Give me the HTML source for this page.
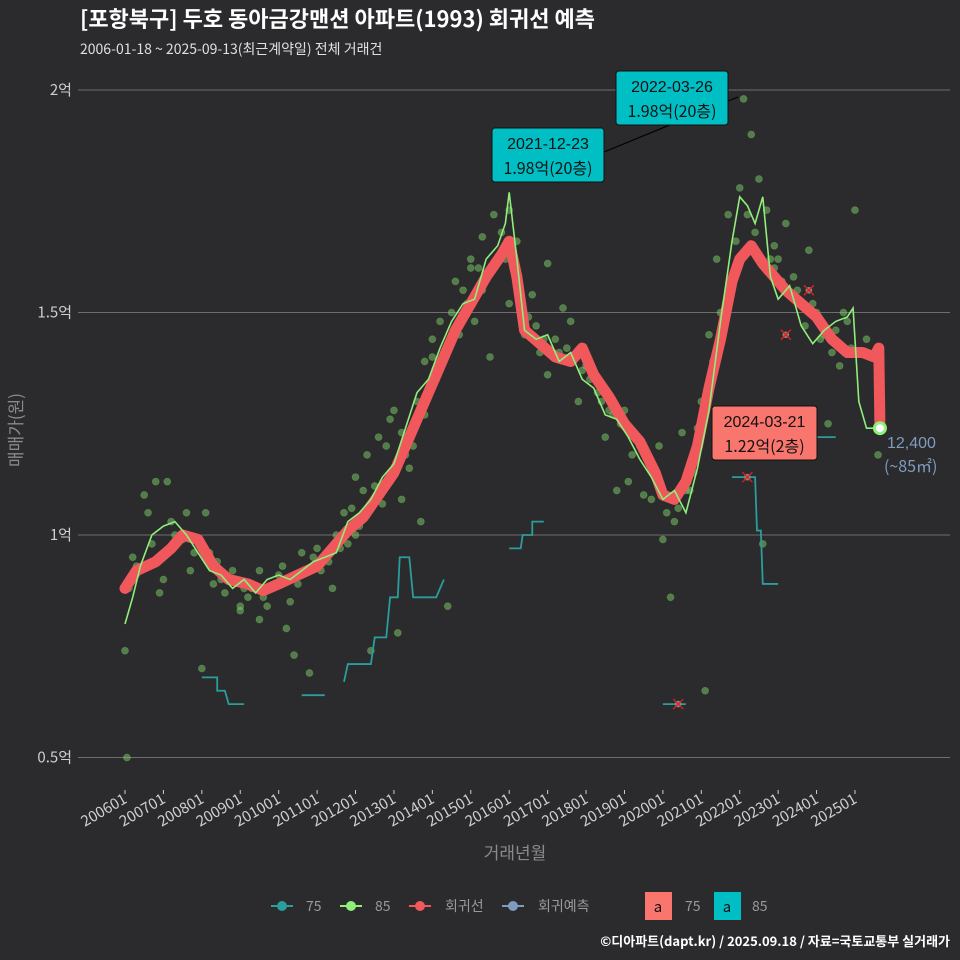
<!DOCTYPE html>
<html><head><meta charset="utf-8"><style>
html,body{margin:0;padding:0;background:#2b2b2d;}
svg{display:block;font-family:"Liberation Sans","Noto Sans CJK KR",sans-serif;}
</style></head><body>
<svg id="c" width="960" height="960" viewBox="0 0 960 960">
<rect width="960" height="960" fill="#2b2b2d"/>
<text x="80" y="27" fill="#ffffff" font-size="22" font-weight="bold" font-family="'Noto Sans CJK KR',sans-serif">[포항북구] 두호 동아금강맨션 아파트(1993) 회귀선 예측</text>
<text x="80" y="54" fill="#e0e0e0" font-size="14" font-family="'Noto Sans CJK KR',sans-serif">2006-01-18 ~ 2025-09-13(최근계약일) 전체 거래건</text>
<g id="grid"></g><g id="marks"></g><g id="ann"></g>
<text transform="translate(22,430) rotate(-90)" text-anchor="middle" fill="#8a8a8a" font-size="17" font-family="'Noto Sans CJK KR',sans-serif">매매가(원)</text>
<text x="515" y="859" text-anchor="middle" fill="#8a8a8a" font-size="17" font-family="'Noto Sans CJK KR',sans-serif">거래년월</text>
<g id="legend" font-size="14" fill="#9a9a9a" font-family="'Noto Sans CJK KR',sans-serif">
 <g><line x1="271" x2="293" y1="906" y2="906" stroke="#2a9d9c" stroke-width="2"/><circle cx="282" cy="906" r="5" fill="#2a9d9c"/><text x="306" y="911">75</text></g>
 <g><line x1="340" x2="362" y1="906" y2="906" stroke="#90ee7a" stroke-width="2"/><circle cx="351" cy="906" r="5" fill="#90ee7a"/><text x="375" y="911">85</text></g>
 <g><line x1="409" x2="431" y1="906" y2="906" stroke="#f0585c" stroke-width="2"/><circle cx="420" cy="906" r="5" fill="#f0585c"/><text x="445" y="911">회귀선</text></g>
 <g><line x1="502" x2="524" y1="906" y2="906" stroke="#7f9cc0" stroke-width="2"/><circle cx="513" cy="906" r="5" fill="#7f9cc0"/><text x="538" y="911">회귀예측</text></g>
 <g><rect x="645" y="892" width="27" height="28" fill="#f8766d"/><text x="658" y="912" text-anchor="middle" fill="#111" font-size="15">a</text><text x="685" y="911">75</text></g>
 <g><rect x="714" y="892" width="27" height="28" fill="#00bfc4"/><text x="727" y="912" text-anchor="middle" fill="#111" font-size="15">a</text><text x="752" y="911">85</text></g>
</g>
<text x="950" y="946" text-anchor="end" fill="#ffffff" font-size="13" font-weight="bold" font-family="'Noto Sans CJK KR',sans-serif">©디아파트(dapt.kr) / 2025.09.18 / 자료=국토교통부 실거래가</text>
</svg>
<script>
const yTicks=[0.5,1,1.5,2];
const yTickLabels=["0.5억","1억","1.5억","2억"];
const xTickLabels=["200601","200701","200801","200901","201001","201101","201201","201301","201401","201501","201601","201701","201801","201901","202001","202101","202201","202301","202401","202501"];
const regYears=[2006.0,2006.3,2006.8,2007.2,2007.5,2007.9,2008.3,2008.7,2009.2,2009.6,2010.0,2010.5,2011.0,2011.4,2011.8,2012.2,2012.6,2013.0,2013.4,2013.8,2014.2,2014.6,2015.0,2015.4,2015.8,2016.0,2016.2,2016.4,2016.8,2017.2,2017.6,2017.9,2018.2,2018.6,2019.0,2019.4,2019.8,2020.0,2020.3,2020.6,2020.9,2021.2,2021.5,2021.8,2022.0,2022.3,2022.6,2022.9,2023.2,2023.6,2024.0,2024.4,2024.8,2025.2,2025.5,2025.62,2025.65];
const regValues=[0.88,0.92,0.94,0.97,1.0,0.99,0.93,0.90,0.89,0.875,0.89,0.91,0.93,0.97,1.01,1.04,1.09,1.14,1.22,1.30,1.38,1.46,1.52,1.58,1.63,1.66,1.58,1.46,1.43,1.40,1.39,1.42,1.36,1.31,1.25,1.21,1.14,1.09,1.08,1.12,1.20,1.33,1.44,1.57,1.62,1.65,1.61,1.58,1.55,1.52,1.49,1.44,1.41,1.41,1.40,1.42,1.24];
const g85Years=[2006.0,2006.2,2006.4,2006.7,2007.0,2007.3,2007.6,2007.9,2008.2,2008.5,2008.8,2009.1,2009.4,2009.7,2010.0,2010.3,2010.6,2010.9,2011.2,2011.5,2011.8,2012.1,2012.4,2012.7,2013.0,2013.3,2013.6,2013.9,2014.2,2014.5,2014.8,2015.1,2015.4,2015.7,2015.9,2016.0,2016.2,2016.4,2016.7,2017.0,2017.3,2017.6,2017.9,2018.2,2018.5,2018.8,2019.1,2019.4,2019.7,2020.0,2020.3,2020.6,2020.9,2021.2,2021.5,2021.8,2022.0,2022.2,2022.4,2022.6,2022.8,2023.0,2023.3,2023.6,2023.9,2024.2,2024.5,2024.8,2024.95,2025.1,2025.3,2025.62];
const g85Values=[0.80,0.86,0.93,1.00,1.02,1.03,1.00,0.96,0.92,0.91,0.88,0.90,0.87,0.90,0.91,0.90,0.92,0.94,0.95,0.96,1.03,1.05,1.08,1.13,1.16,1.24,1.32,1.35,1.42,1.48,1.52,1.53,1.62,1.65,1.70,1.77,1.62,1.46,1.44,1.45,1.39,1.41,1.35,1.33,1.27,1.26,1.22,1.17,1.13,1.08,1.10,1.05,1.15,1.28,1.48,1.66,1.76,1.74,1.70,1.76,1.58,1.53,1.56,1.47,1.43,1.46,1.48,1.49,1.51,1.30,1.24,1.24];
const t75Segments=[[[2008.0,0.68],[2008.4,0.68],[2008.4,0.65],[2008.6,0.65],[2008.7,0.62],[2009.1,0.62]],[[2010.6,0.64],[2011.2,0.64]],[[2011.7,0.67],[2011.8,0.71],[2012.4,0.71],[2012.5,0.77],[2012.8,0.77],[2012.9,0.86],[2013.1,0.86],[2013.15,0.95],[2013.4,0.95],[2013.5,0.86],[2014.1,0.86],[2014.3,0.90]],[[2016.0,0.97],[2016.3,0.97],[2016.35,1.0],[2016.6,1.0],[2016.6,1.03],[2016.9,1.03]],[[2020.0,0.62],[2020.6,0.62]],[[2021.8,1.13],[2022.4,1.13],[2022.45,1.01],[2022.55,1.01],[2022.6,0.89],[2023.0,0.89]],[[2024.0,1.22],[2024.5,1.22]]];
const crossYears=[2020.4,2022.2,2023.2,2023.8];
const crossValues=[0.62,1.13,1.45,1.55];
const ptYears=[2006.0,2006.1,2006.2,2006.5,2006.6,2006.8,2006.9,2007.1,2007.3,2007.6,2007.8,2008.1,2008.2,2008.3,2008.6,2008.8,2009.0,2009.1,2009.3,2009.5,2009.7,2010.0,2010.2,2010.4,2010.6,2010.9,2011.0,2011.3,2011.5,2011.7,2011.9,2012.0,2012.2,2012.3,2012.5,2012.6,2012.8,2012.9,2013.0,2013.2,2013.3,2013.5,2013.6,2013.8,2013.9,2014.0,2014.2,2014.3,2014.5,2014.6,2014.8,2015.0,2015.1,2015.3,2015.4,2015.6,2015.7,2015.9,2016.0,2016.2,2016.4,2016.6,2016.8,2017.0,2017.2,2017.4,2017.6,2017.8,2018.0,2018.3,2018.5,2018.7,2018.9,2019.1,2019.3,2019.5,2019.7,2019.9,2020.0,2020.1,2020.3,2020.5,2020.7,2020.9,2021.0,2021.2,2021.4,2021.5,2021.7,2021.9,2022.0,2022.1,2022.3,2022.5,2022.7,2022.9,2023.0,2023.2,2023.4,2023.6,2023.8,2024.0,2024.2,2024.4,2024.6,2024.8,2025.0,2025.3,2025.6,2006.05,2007.0,2008.0,2009.5,2010.8,2012.4,2013.1,2014.4,2015.5,2017.0,2018.8,2020.2,2021.1,2022.6,2024.3,2013.7,2015.2,
2006.3,2006.7,2007.2,2007.5,2008.4,2008.9,2009.2,2009.8,2010.1,2010.5,2011.1,2011.6,2011.8,2012.1,2012.7,2013.4,2013.8,2014.1,2014.7,2014.9,2015.3,2015.8,2016.1,2016.5,2016.9,2017.5,2017.9,2018.1,2018.4,2019.0,2019.4,2019.8,2020.4,2020.6,2021.3,2021.6,2021.8,2022.2,2022.4,2022.8,2023.1,2023.5,2023.7,2024.1,2024.5,2024.9,2012.0,2013.2,2014.0,2015.0,2016.0,2010.3,2009.0,2011.4,2012.9,2013.5,2014.6,2015.9,2016.7,2017.3,2018.6,2019.2,2020.8,2021.3,2022.9,2023.9,2024.7,2007.7,2008.5,2009.6];
const ptValues=[0.74,0.88,0.95,1.09,1.05,1.12,0.87,1.12,1.0,1.05,0.96,1.05,0.96,0.89,0.87,0.92,0.84,0.88,0.88,0.92,0.84,0.91,0.79,0.73,0.96,0.95,0.97,0.94,1.0,1.05,1.06,1.13,1.1,1.18,1.11,1.22,1.2,1.26,1.28,1.23,1.18,1.25,1.3,1.39,1.33,1.44,1.48,1.41,1.5,1.57,1.55,1.62,1.48,1.67,1.58,1.72,1.85,1.65,1.73,1.66,1.45,1.54,1.41,1.36,1.44,1.51,1.48,1.3,1.38,1.32,1.22,1.27,1.25,1.12,1.22,1.09,1.08,1.2,0.99,1.05,1.03,1.23,1.1,1.24,1.3,1.45,1.62,1.5,1.72,1.66,1.78,1.98,1.9,1.8,1.73,1.65,1.62,1.7,1.58,1.52,1.64,1.5,1.45,1.41,1.38,1.48,1.73,1.44,1.18,0.5,0.9,0.7,0.81,0.69,0.74,0.78,0.84,1.4,1.61,1.1,0.86,0.65,0.98,1.25,1.03,1.6,
0.93,0.98,1.03,0.99,0.94,0.9,0.86,0.88,0.93,0.89,0.92,0.97,0.98,1.02,1.07,1.15,1.27,1.35,1.45,1.52,1.55,1.68,1.6,1.49,1.44,1.42,1.37,1.35,1.3,1.28,1.2,1.14,1.06,1.1,1.36,1.47,1.58,1.72,1.68,1.62,1.57,1.55,1.47,1.44,1.46,1.42,1.0,1.08,1.4,1.6,1.52,0.85,0.83,0.88,1.12,1.2,1.45,1.62,1.47,1.41,1.28,1.18,1.14,1.39,1.6,1.52,1.5,0.92,0.9,0.86];
const NS="http://www.w3.org/2000/svg";
const X=y=>125+(y-2006)*38.42;
const Y=v=>535-(v-1)*445;
function mk(tag,attrs,parent){const e=document.createElementNS(NS,tag);for(const k in attrs)e.setAttribute(k,attrs[k]);parent.appendChild(e);return e;}
const grid=document.getElementById('grid'),marks=document.getElementById('marks'),ann=document.getElementById('ann');
yTicks.forEach((v,i)=>{
 const l=mk('line',{x1:78,x2:950,y1:Y(v),y2:Y(v),stroke:'#6e6e6e','stroke-width':1},grid);
 
 
 const t=mk('text',{x:72,y:Y(v)+5,'text-anchor':'end',fill:'#cfcfcf','font-size':15,'font-family':"'Noto Sans CJK KR',sans-serif"},grid);
 t.textContent=yTickLabels[i];
 
 
});
xTickLabels.forEach((s,i)=>{
 const x=X(2006+i);
 const tk=mk('line',{x1:x,x2:x,y1:790,y2:794,stroke:'#cfcfcf'},grid);
 
 
 const t=mk('text',{transform:`translate(${x+3},802) rotate(-30)`,'text-anchor':'end',fill:'#cfcfcf','font-size':15,'font-family':"'Noto Sans CJK KR',sans-serif"},grid);
 t.textContent=s;
 
 
});
ptYears.forEach((yr,i)=>{
 const c=mk('circle',{cx:X(yr),cy:Y(ptValues[i]),r:3.5,fill:'#7fd06a','fill-opacity':0.5,stroke:'#7fd06a','stroke-opacity':0.3,'stroke-width':0.8},marks);
 
 
});
t75Segments.forEach(seg=>{
 const p=mk('polyline',{points:seg.map(d=>X(d[0])+','+Y(d[1])).join(' '),fill:'none',stroke:'#2a9d9c','stroke-width':1.8},marks);
 
 
});
const reg=mk('polyline',{points:regYears.map((y,i)=>X(y)+','+Y(regValues[i])).join(' '),fill:'none',stroke:'#f0585c','stroke-width':11,'stroke-linejoin':'round','stroke-linecap':'round'},marks);


const g85=mk('polyline',{points:g85Years.map((y,i)=>X(y)+','+Y(g85Values[i])).join(' '),fill:'none',stroke:'#90ee7a','stroke-width':1.6},marks);


crossYears.forEach((yr,i)=>{
 const x=X(yr),y=Y(crossValues[i]);
 const g=mk('g',{},marks);
 
 
 mk('circle',{cx:x,cy:y,r:3.3,fill:'#888'},g);
 mk('path',{d:`M${x-5} ${y-5}L${x+5} ${y+5}M${x-5} ${y+5}L${x+5} ${y-5}`,stroke:'#e02020','stroke-width':1.3},g);
});
const last=mk('circle',{cx:X(regYears[regYears.length-1]),cy:Y(regValues[regValues.length-1]),r:5.5,fill:'#fff',stroke:'#90ee7a','stroke-width':3},marks);


mk('line',{x1:604,y1:152,x2:738,y2:97,stroke:'#000','stroke-width':1.2},ann);
function box(x,y,w,h,fill,l1,l2,name){
 const g=mk('g',{},ann);
 
 
 mk('rect',{x,y,width:w,height:h,rx:3,fill,stroke:'#111','stroke-width':1},g);
 const a=mk('text',{x:x+w/2,y:y+21,'text-anchor':'middle',fill:'#111','font-size':16},g);a.textContent=l1;
 const b=mk('text',{x:x+w/2,y:y+46,'text-anchor':'middle',fill:'#111','font-size':16,'font-family':"'Noto Sans CJK KR',sans-serif"},g);b.textContent=l2;
}
box(616,71,112,54,'#00bfc4','2022-03-26','1.98억(20층)','annotation-max-2022');
box(492,128,112,54,'#00bfc4','2021-12-23','1.98억(20층)','annotation-max-2021');
box(712,406,105,54,'#f8766d','2024-03-21','1.22억(2층)','annotation-latest-75');
const r1=mk('text',{x:887,y:448,fill:'#7f9cc0','font-size':16},ann);r1.textContent='12,400';


const r2=mk('text',{x:884,y:472,fill:'#7f9cc0','font-size':16,'font-family':"'Noto Sans CJK KR',sans-serif"},ann);r2.textContent='(~85㎡)';


</script>
</body></html>
